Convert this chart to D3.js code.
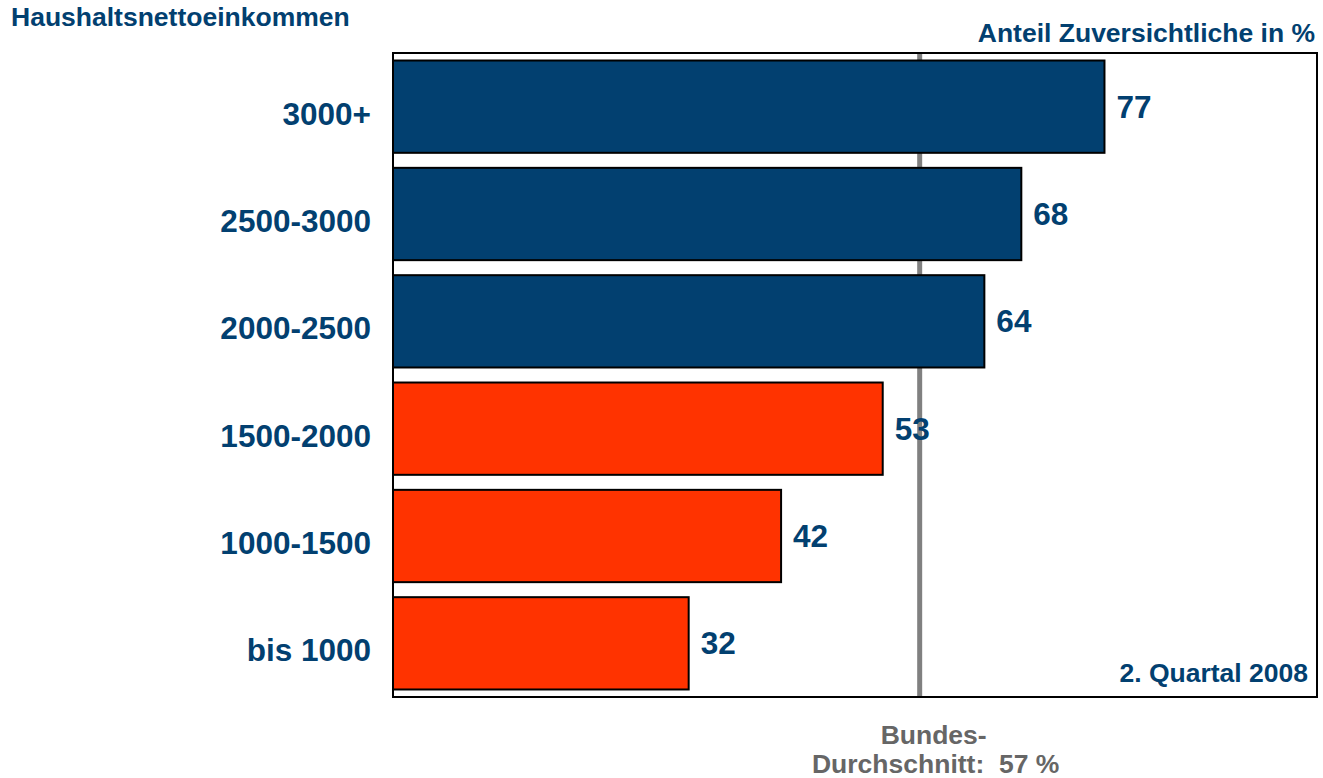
<!DOCTYPE html>
<html>
<head>
<meta charset="utf-8">
<script src="https://cdn.jsdelivr.net/npm/d3@7"></script>
<style>
  body { margin: 0; background: #fff; }
  svg { display: block; font-family: "Liberation Sans", Arial, sans-serif; font-weight: bold; }
</style>
</head>
<body>
<div class="visuals"></div>
<script>
// income groups, top to bottom
const groups = ["3000+", "2500-3000", "2000-2500", "1500-2000", "1000-1500", "bis 1000"];
const shares = [77, 68, 64, 53, 42, 32];
// groups at or above the average get the blue fill
const aboveAvg = [true, true, true, false, false, false];
const average = 57;

const width = 1323;
const height = 778;
const blue = "#024070";
const red = "#ff3300";

const svg = d3.select(".visuals")
  .append("svg")
  .attr("width", width)
  .attr("height", height);

const x = d3.scaleLinear().domain([0, 100]).range([393, 1317]);
const y = d3.scaleBand()
  .domain(groups)
  .range([53, 697])
  .paddingInner(0.14)
  .paddingOuter(0.07);

// average line sits behind the bars
svg.append("line")
  .attr("x1", x(average))
  .attr("x2", x(average))
  .attr("y1", 53)
  .attr("y2", 697)
  .attr("stroke", "#808080")
  .attr("stroke-width", 5);

svg.selectAll("rect.bar")
  .data(groups)
  .enter()
  .append("rect")
  .attr("class", "bar")
  .attr("x", x(0))
  .attr("y", d => y(d))
  .attr("width", (d, i) => x(shares[i]) - x(0))
  .attr("height", y.bandwidth())
  .attr("fill", (d, i) => aboveAvg[i] ? blue : red)
  .attr("stroke", "#000")
  .attr("stroke-width", 2);

// frame
svg.append("rect")
  .attr("x", x(0))
  .attr("y", 53)
  .attr("width", x(100) - x(0))
  .attr("height", 644)
  .attr("fill", "none")
  .attr("stroke", "#000")
  .attr("stroke-width", 2);

// category labels
svg.selectAll("text.cat")
  .data(groups)
  .enter()
  .append("text")
  .attr("class", "cat")
  .attr("x", 371)
  .attr("y", d => y(d) + y.bandwidth() / 2 + 18)
  .attr("text-anchor", "end")
  .attr("fill", blue)
  .attr("font-size", 31.5)
  .text(d => d);

// value labels
svg.selectAll("text.val")
  .data(groups)
  .enter()
  .append("text")
  .attr("class", "val")
  .attr("x", (d, i) => x(shares[i]) + 12)
  .attr("y", d => y(d) + y.bandwidth() / 2 + 11)
  .attr("fill", blue)
  .attr("font-size", 31.5)
  .text((d, i) => shares[i]);

svg.append("text")
  .attr("x", 11)
  .attr("y", 26)
  .attr("fill", blue)
  .attr("font-size", 26.5)
  .text("Haushaltsnettoeinkommen");

svg.append("text")
  .attr("x", 1315)
  .attr("y", 42)
  .attr("text-anchor", "end")
  .attr("fill", blue)
  .attr("font-size", 26.5)
  .text("Anteil Zuversichtliche in %");

svg.append("text")
  .attr("x", 1308)
  .attr("y", 682)
  .attr("text-anchor", "end")
  .attr("fill", blue)
  .attr("font-size", 26.5)
  .text("2. Quartal 2008");

const avgNote = svg.append("text")
  .attr("text-anchor", "middle")
  .attr("fill", "#666666")
  .attr("font-size", 26.5);
avgNote.append("tspan")
  .attr("x", x(average) + 14)
  .attr("y", 744)
  .text("Bundes-");
avgNote.append("tspan")
  .attr("x", x(average) + 16)
  .attr("y", 773)
  .attr("xml:space", "preserve")
  .style("white-space", "pre")
  .text("Durchschnitt:  " + average + " %");
</script>
</body>
</html>
